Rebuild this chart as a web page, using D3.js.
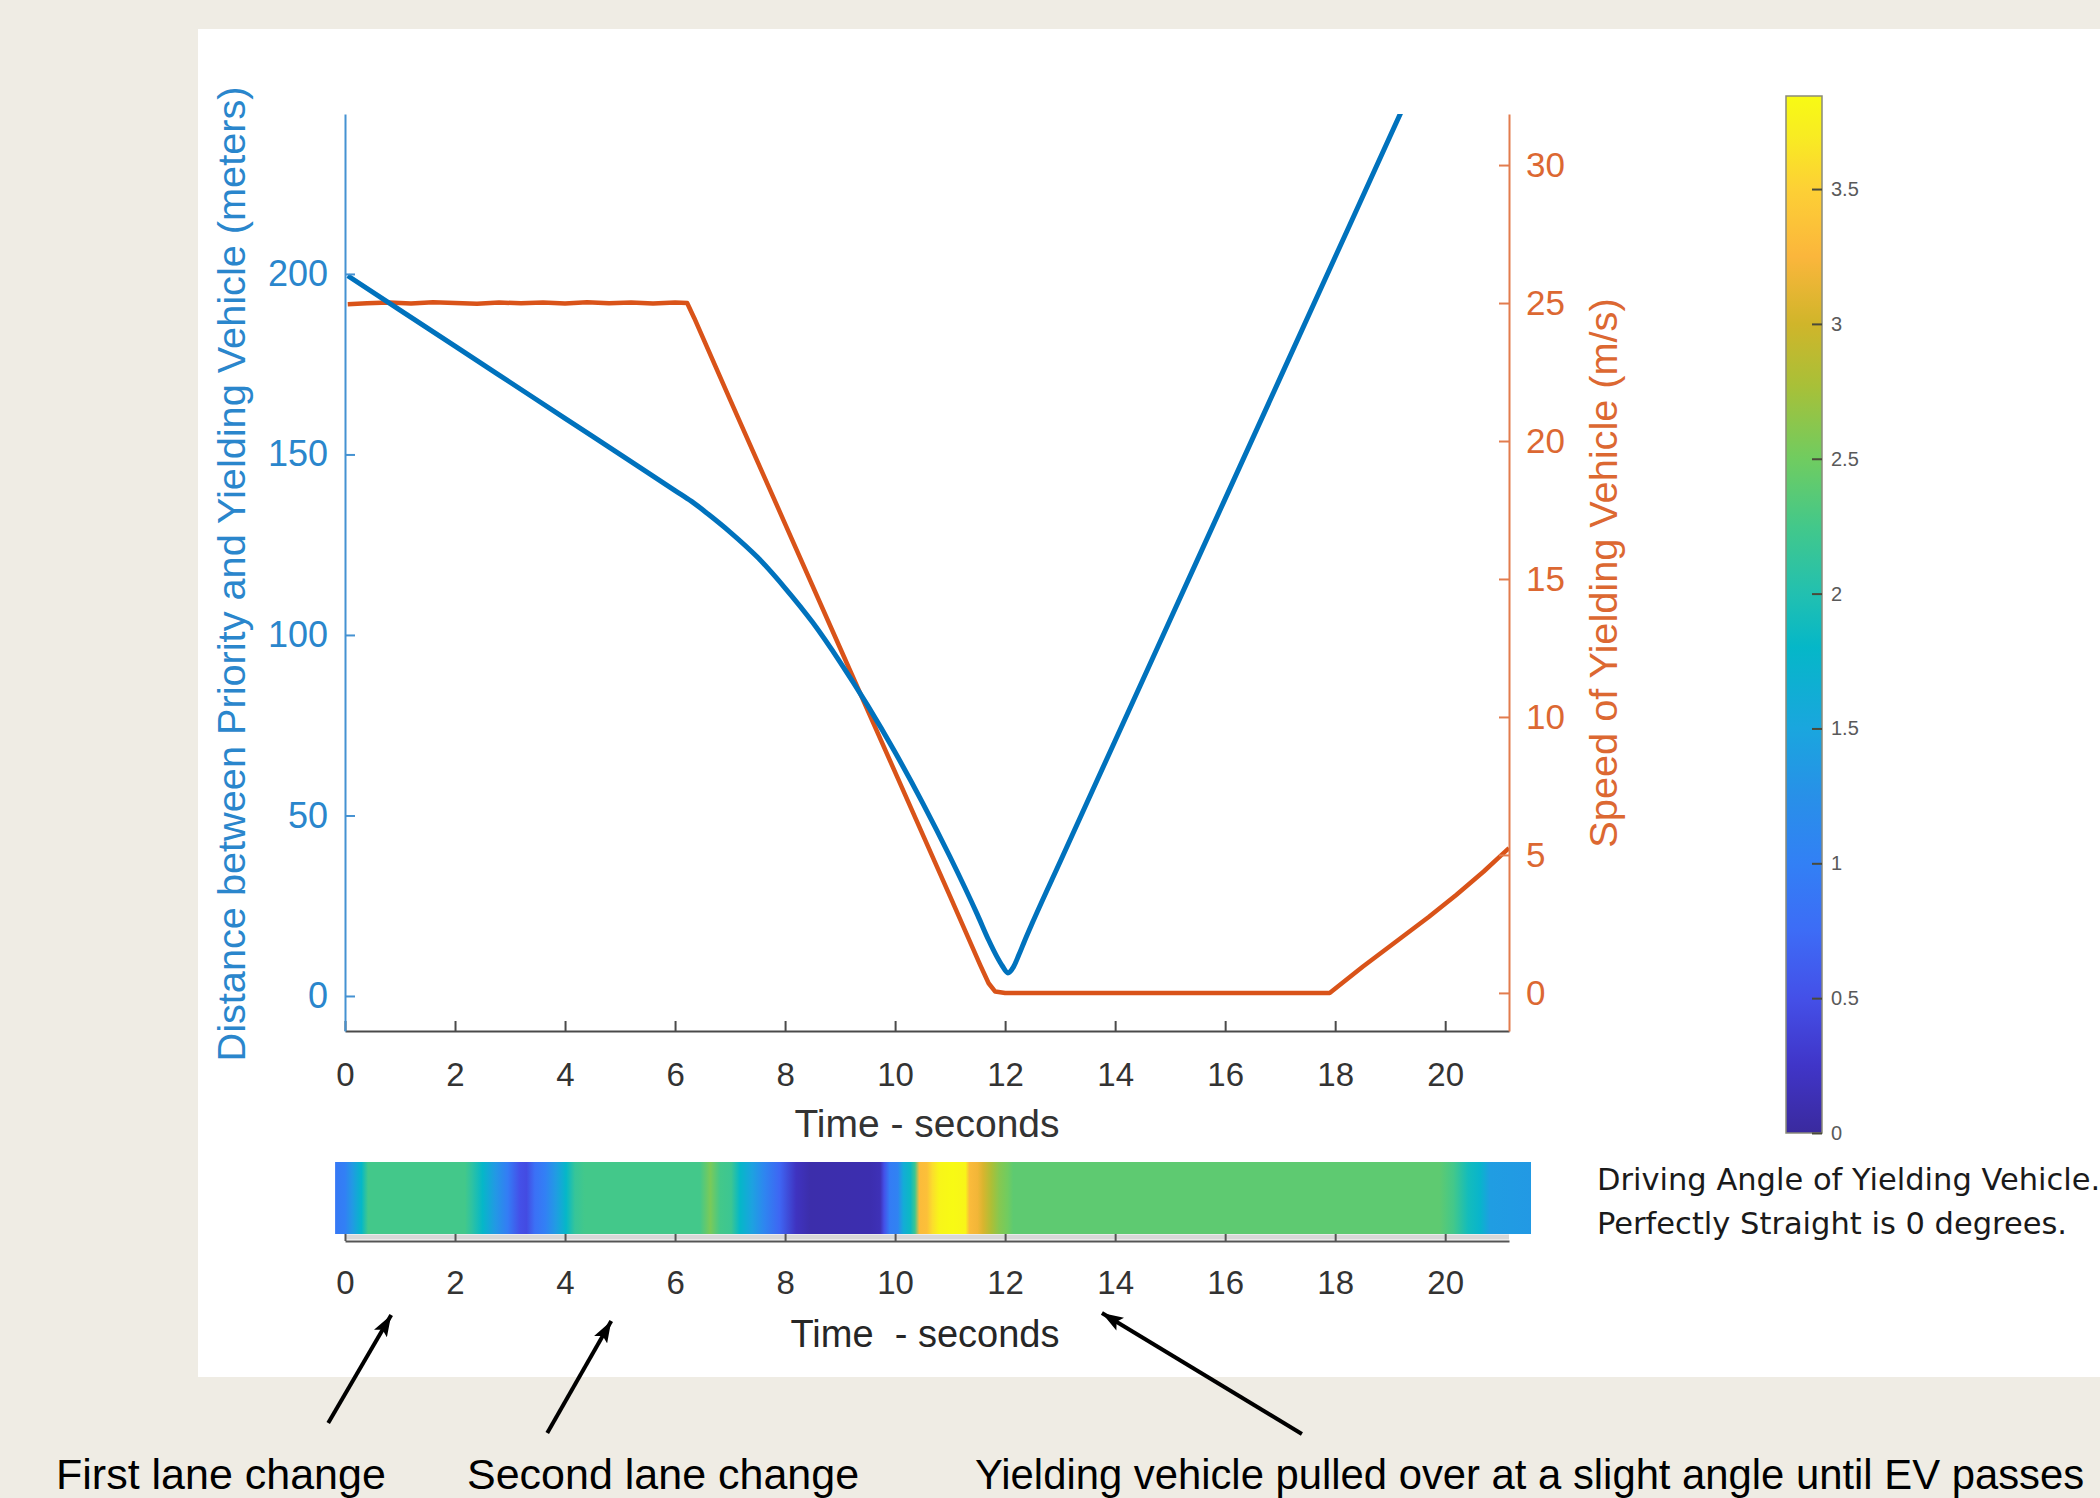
<!DOCTYPE html>
<html>
<head>
<meta charset="utf-8">
<style>
  body { margin: 0; background: #efece4; }
  svg { display: block; font-family: "Liberation Sans", Arial, sans-serif; }
</style>
<script src="https://d3js.org/d3.v7.min.js"></script>
</head>
<body>
<script>
// distance between priority and yielding vehicle (m) vs time (s)
const distTime  = [0.05, 1, 2, 3, 4, 5, 6, 6.3, 6.6, 7, 7.5, 8, 8.5, 9, 9.5, 10, 10.5, 11, 11.5, 11.7, 11.85, 11.95, 12.05, 12.15, 12.25, 12.35, 12.5, 13, 14, 15, 16, 17, 18, 19, 19.4];
const distValue = [199.5, 190, 180, 170, 160, 150, 140, 137, 133.5, 128.5, 121.5, 113, 103.5, 92.5, 80.5, 67.5, 53.5, 38.5, 22.4, 15.5, 10.9, 8.3, 6.4, 8.0, 11.4, 15.1, 20.4, 37.2, 70.7, 104.2, 137.7, 171.2, 204.7, 238.2, 251.6];

// speed of yielding vehicle (m/s) vs time (s)
const speedTime  = [0.05, 0.4, 0.8, 1.2, 1.6, 2.0, 2.4, 2.8, 3.2, 3.6, 4.0, 4.4, 4.8, 5.2, 5.6, 6.0, 6.22, 6.35, 7, 8, 9, 10, 11, 11.55, 11.7, 11.82, 12, 14, 16, 17.9, 18.5, 19.2, 19.7, 20.2, 20.7, 21.16];
const speedValue = [24.96, 24.99, 25.02, 24.98, 25.03, 25.0, 24.97, 25.02, 24.99, 25.02, 24.98, 25.03, 24.99, 25.02, 24.98, 25.02, 25.0, 24.45, 21.5, 17.0, 12.5, 8.0, 3.5, 1.0, 0.35, 0.05, 0, 0, 0, 0, 0.95, 2.0, 2.75, 3.55, 4.4, 5.25];

// driving angle (degrees) vs time (s), strip under the plot
const angleTime  = [-0.18, 0, 0.13, 0.3, 0.42, 2.18, 2.3, 2.5, 2.73, 2.96, 3.18, 3.3, 3.45, 3.64, 3.84, 4.02, 4.18, 4.36, 6.45, 6.64, 6.82, 7.02, 7.18, 7.4, 7.62, 7.9, 8.2, 8.45, 9.55, 9.73, 9.8, 9.9, 10.05, 10.15, 10.28, 10.36, 10.44, 10.58, 10.68, 10.8, 11.05, 11.28, 11.35, 11.5, 11.6, 11.75, 11.9, 12.05, 12.15, 19.9, 20.15, 20.42, 20.64, 20.82, 21.56];
const angleValue = [0.9, 1.0, 1.35, 1.8, 2.25, 2.25, 2.1, 1.8, 1.35, 0.95, 0.5, 0.45, 0.8, 1.0, 1.4, 1.8, 2.15, 2.25, 2.25, 2.55, 2.25, 2.2, 1.8, 1.45, 1.1, 0.7, 0.2, 0.08, 0.1, 0.15, 0.5, 0.95, 1.05, 1.6, 1.85, 2.2, 3.3, 3.35, 3.6, 3.8, 3.85, 3.8, 3.3, 3.2, 3.05, 2.8, 2.6, 2.5, 2.4, 2.4, 2.25, 1.9, 1.75, 1.4, 1.35];

const timeTicks  = [0, 2, 4, 6, 8, 10, 12, 14, 16, 18, 20];
const distTicks  = [0, 50, 100, 150, 200];
const speedTicks = [0, 5, 10, 15, 20, 25, 30];
const angleTicks = [0, 0.5, 1, 1.5, 2, 2.5, 3, 3.5];

const notes     = ["First lane change", "Second lane change", "Yielding vehicle pulled over at a slight angle until EV passes"];
const noteTimes = [0.84, 4.84, 13.76];

// colormap
const cmapValues = [0, 0.25, 0.5, 0.75, 1.0, 1.25, 1.5, 1.8, 2.0, 2.25, 2.5, 2.77, 3.0, 3.25, 3.5, 3.7, 3.85];
const cmapColors = ["#3a2a9e", "#4035c8", "#4450e8", "#3d6cf6", "#3280f5", "#2890e8", "#1aa6de", "#05b7c8", "#22c0b0", "#43c88a", "#70cc60", "#a8c038", "#d0b52a", "#fbb63c", "#fdd035", "#f8ec22", "#f8fa14"];

const W = 2100, H = 1498;
const svg = d3.select("body").append("svg").attr("width", W).attr("height", H);

// white panel
svg.append("rect").attr("x", 198).attr("y", 29).attr("width", W - 198).attr("height", 1348).attr("fill", "#ffffff");

const plotL = 345, plotR = 1509, plotT = 114, plotB = 1031;
const x = d3.scaleLinear().domain([0, 21.16]).range([plotL, plotR]);
const yDist = d3.scaleLinear().domain([-9.7, 244.3]).range([plotB, plotT]);
const ySpeed = d3.scaleLinear().domain([-1.38, 31.85]).range([plotB, plotT]);
const cmap = d3.scaleLinear().domain(cmapValues).range(cmapColors).interpolate(d3.interpolateRgb).clamp(true);

const blueLine = "#0072bd", blueText = "#2a86cc";
const orangeLine = "#d95319", orangeText = "#dc6832";

const defs = svg.append("defs");
defs.append("clipPath").attr("id", "plotclip")
  .append("rect").attr("x", plotL).attr("y", plotT).attr("width", plotR - plotL).attr("height", plotB - plotT);

// data lines
const distData = distTime.map((t, i) => [t, distValue[i]]);
const speedData = speedTime.map((t, i) => [t, speedValue[i]]);

const lines = svg.append("g").attr("clip-path", "url(#plotclip)");
lines.append("path")
  .datum(speedData)
  .attr("fill", "none").attr("stroke", orangeLine).attr("stroke-width", 4.5).attr("stroke-linejoin", "round")
  .attr("d", d3.line().x(d => x(d[0])).y(d => ySpeed(d[1])));
lines.append("path")
  .datum(distData)
  .attr("fill", "none").attr("stroke", blueLine).attr("stroke-width", 5).attr("stroke-linejoin", "round")
  .attr("d", d3.line().curve(d3.curveMonotoneX).x(d => x(d[0])).y(d => yDist(d[1])));

// axes
function styleAxis(g, color, textColor, size) {
  g.select(".domain").attr("stroke", color).attr("stroke-width", 2);
  g.selectAll(".tick line").attr("stroke", color).attr("stroke-width", 2);
  g.selectAll(".tick text").attr("fill", textColor).attr("font-size", size).attr("font-family", "Liberation Sans, Arial, sans-serif");
}

svg.append("g").attr("transform", `translate(0,${plotB})`)
  .call(d3.axisBottom(x).tickValues(timeTicks).tickSize(-10).tickSizeOuter(0).tickPadding(32))
  .call(g => styleAxis(g, "#4a4a4a", "#333333", 33));

svg.append("g").attr("transform", `translate(${plotL},0)`)
  .call(d3.axisLeft(yDist).tickValues(distTicks).tickSize(-10).tickSizeOuter(0).tickPadding(17))
  .call(g => styleAxis(g, "#4592d2", blueText, 36));

svg.append("g").attr("transform", `translate(${plotR},0)`)
  .call(d3.axisRight(ySpeed).tickValues(speedTicks).tickSize(-10).tickSizeOuter(0).tickPadding(17))
  .call(g => styleAxis(g, "#e27c4e", orangeText, 35));

// axis labels
svg.append("text").attr("transform", "translate(245,574) rotate(-90)")
  .attr("text-anchor", "middle").attr("font-size", 39.7).attr("fill", blueText)
  .text("Distance between Priority and Yielding Vehicle (meters)");
svg.append("text").attr("transform", "translate(1617,573) rotate(-90)")
  .attr("text-anchor", "middle").attr("font-size", 39.7).attr("fill", orangeText)
  .text("Speed of Yielding Vehicle (m/s)");
svg.append("text").attr("x", (plotL + plotR) / 2).attr("y", 1137)
  .attr("text-anchor", "middle").attr("font-size", 39).attr("fill", "#333333")
  .text("Time - seconds");

// angle strip
const angleData = angleTime.map((t, i) => [t, angleValue[i]]);
const sx0 = x(angleTime[0]), sx1 = x(angleTime[angleTime.length - 1]);
const stripGrad = defs.append("linearGradient").attr("id", "stripgrad")
  .attr("x1", 0).attr("x2", 1).attr("y1", 0).attr("y2", 0);
stripGrad.selectAll("stop").data(angleData).join("stop")
  .attr("offset", d => (x(d[0]) - sx0) / (sx1 - sx0))
  .attr("stop-color", d => cmap(d[1]));
svg.append("rect").attr("x", sx0).attr("y", 1162).attr("width", sx1 - sx0).attr("height", 72)
  .attr("fill", "url(#stripgrad)");

svg.append("line").attr("x1", plotL).attr("x2", plotR).attr("y1", 1237).attr("y2", 1237)
  .attr("stroke", "#d8d8d8").attr("stroke-width", 5);
svg.append("g").attr("transform", "translate(0,1241)")
  .call(d3.axisBottom(x).tickValues(timeTicks).tickSize(-7).tickSizeOuter(0).tickPadding(30))
  .call(g => styleAxis(g, "#555555", "#333333", 33));
svg.append("text").attr("x", 925).attr("y", 1347)
  .attr("text-anchor", "middle").attr("font-size", 38).attr("fill", "#262626")
  .style("white-space", "pre")
  .text("Time  - seconds");

// colorbar
const cTop = 96, cBot = 1133, cL = 1786, cW = 36;
const yAngle = d3.scaleLinear().domain([0, 3.845]).range([cBot, cTop]);
const barGrad = defs.append("linearGradient").attr("id", "bargrad")
  .attr("x1", 0).attr("x2", 0).attr("y1", 1).attr("y2", 0);
barGrad.selectAll("stop").data(cmapValues).join("stop")
  .attr("offset", v => (cBot - yAngle(v)) / (cBot - cTop))
  .attr("stop-color", v => cmap(v));
svg.append("rect").attr("x", cL).attr("y", cTop).attr("width", cW).attr("height", cBot - cTop)
  .attr("fill", "url(#bargrad)").attr("stroke", "#8a8a7a").attr("stroke-width", 1.5);
svg.append("g").attr("transform", `translate(${cL + cW},0)`)
  .call(d3.axisRight(yAngle).tickValues(angleTicks).tickFormat(d3.format("")).tickSize(-10).tickSizeOuter(0).tickPadding(9))
  .call(g => {
    g.select(".domain").remove();
    g.selectAll(".tick line").attr("stroke", "#4a4a3a").attr("stroke-width", 2);
    g.selectAll(".tick text").attr("fill", "#5a5a5a").attr("font-size", 20).attr("font-family", "Liberation Sans, Arial, sans-serif");
  });

const caption = svg.append("text").attr("font-family", "DejaVu Sans, sans-serif").attr("font-size", 30.5).attr("fill", "#1a1a1a");
caption.append("tspan").attr("x", 1597).attr("y", 1190).text("Driving Angle of Yielding Vehicle.");
caption.append("tspan").attr("x", 1597).attr("y", 1234).text("Perfectly Straight is 0 degrees.");

// annotations with arrows
defs.append("marker").attr("id", "head").attr("markerUnits", "userSpaceOnUse")
  .attr("viewBox", "0 0 20 14").attr("refX", 20).attr("refY", 7)
  .attr("markerWidth", 22).attr("markerHeight", 15).attr("orient", "auto")
  .append("path").attr("d", "M0,0 L20,7 L0,14 L4,7 Z").attr("fill", "#000");

const noteX = [56, 467, 975];
const noteSize = [43, 43, 41.8];
const tailDx = [-63, -64, 200];
const tailY = [1423, 1433, 1434];
const headY = [1315, 1321, 1313];
notes.forEach((txt, i) => {
  const hx = x(noteTimes[i]);
  svg.append("line").attr("x1", hx + tailDx[i]).attr("y1", tailY[i]).attr("x2", hx).attr("y2", headY[i])
    .attr("stroke", "#000").attr("stroke-width", 4).attr("marker-end", "url(#head)");
  svg.append("text").attr("x", noteX[i]).attr("y", 1489)
    .attr("font-size", noteSize[i]).attr("fill", "#000").text(txt);
});
</script>
</body>
</html>
